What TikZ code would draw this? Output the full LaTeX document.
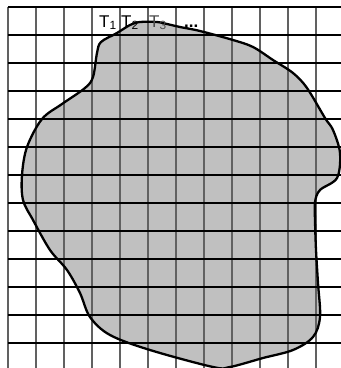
\documentclass[tikz,border=0pt]{standalone}
\usepackage{fontspec}
\setmainfont{Liberation Sans}
\begin{document}
\begin{tikzpicture}[x=1pt,y=-1pt,
  vline/.style={draw=black!62,line width=1.6pt},
  hline/.style={draw=black,line width=1.1pt},
  blob/.style={fill={rgb,255:red,192;green,192;blue,192}},
  outline/.style={draw=black,line width=2.3pt,line join=round},
  lbl/.style={anchor=base west,inner sep=0pt,font=\fontsize{17}{17}\selectfont}]
\useasboundingbox (0,0) rectangle (341,368);
\def\blobpath{plot[smooth cycle,tension=0.55] coordinates {
 (140,22) (157,22) (167,24) (180,27) (200,31) (233,40) (253,47) (273,60)
 (293,73) (307,88) (325,118) (333,130) (340,153) (337,178) (320,190)
 (315,202) (315,220) (316,250) (318,283) (320,317) (313,337) (293,350)
 (263,358) (230,367) (213,367) (150,350) (110,335) (90,317) (80,293)
 (67,270) (50,250) (33,220) (23,200) (22,175) (27,147) (42,119)
 (62,104) (85,88) (93,77) (97,53) (101,42) (117,33) (130,25)}}
\fill[blob] \blobpath;
\foreach \k in {0,...,11} {\draw[vline] ({8+28*\k},7) -- ({8+28*\k},368);}
\foreach \k in {0,...,12} {\draw[hline] (8,{7+28*\k}) -- (341,{7+28*\k});}
\draw[outline] \blobpath;
\node[lbl] (t1) at (99,27) {T\textsubscript{1}};
\node[lbl] (t2) at (121,27) {T\textsubscript{2}};
\node[lbl,text=black!70] (t3) at (149,27) {T\textsubscript{3}};
\node[lbl] (dots) at (184,27) {\textbf{...}};
\end{tikzpicture}
\end{document}
